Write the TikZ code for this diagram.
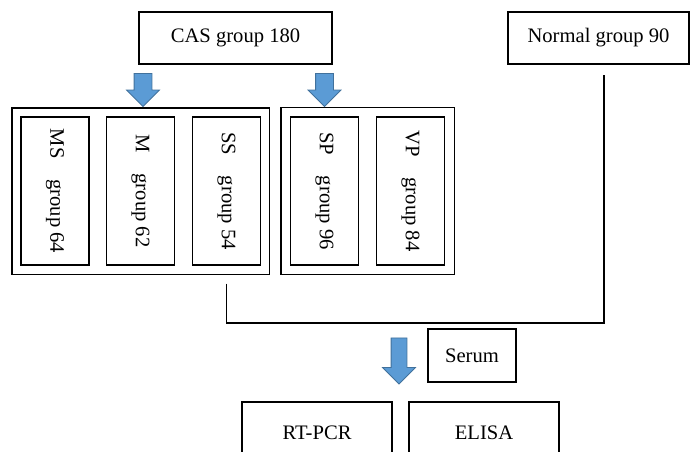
\documentclass[tikz,border=0pt]{standalone}
\usepackage{fontspec}
\setmainfont{Liberation Serif}
\usepackage{xcolor}
\usetikzlibrary{shapes.arrows, fit}
\definecolor{arrowfill}{RGB}{91,155,213}
\definecolor{arrowedge}{RGB}{65,113,156}

\begin{document}
\begin{tikzpicture}[x=1pt, y=-1pt, line width=1.2pt,
  box/.style={draw, rectangle, inner sep=0pt, minimum width=#1, minimum height=52,
    font=\fontsize{20.6}{24}\selectfont},
  groupbox/.style={draw, rectangle, inner sep=0pt, minimum width=68, minimum height=148,
    font=\fontsize{20.6}{24}\selectfont},
  outerbox/.style={draw, rectangle, inner sep=#1},
  bluearrow/.style={single arrow, rotate=-90, draw=arrowedge, fill=arrowfill,
    line width=0.8pt, inner xsep=0pt, minimum width=32, single arrow head extend=#1}]
  \useasboundingbox (0,0) rectangle (690,451);

  \node[box=193] (cas) at (235.5,38) {CAS group 180};
  \node[box=181] (normal) at (598.5,38) {Normal group 90};

  % CAS subgroups
  \node[groupbox] (ms) at (55,191) {\rotatebox{-90}{MS\quad group 64}};
  \node[groupbox] (m) at (140.5,191) {\rotatebox{-90}{M\quad group 62}};
  \node[groupbox] (ss) at (226.5,191) {\rotatebox{-90}{SS\quad group 54}};
  \node[groupbox] (sp) at (324.5,191) {\rotatebox{-90}{SP\quad group 96}};
  \node[groupbox] (vp) at (410.5,191) {\rotatebox{-90}{VP\quad group 84}};
  \node[outerbox=8.5pt, fit=(ms)(ss)] (leftset) {};
  \node[outerbox=9pt, fit=(sp)(vp)] (rightset) {};

  \node[bluearrow=7.5, inner ysep=8.5pt, minimum height=33] (arrowleft) at (143,85.5) {};
  \node[bluearrow=7.5, inner ysep=8.5pt, minimum height=33] (arrowright) at (324.5,85.5) {};

  \node[box=88, minimum height=53] (serum) at (472,355.5) {Serum};
  \node[bluearrow=8.5, inner ysep=7.5pt, minimum height=46] (arrowserum) at (399,357) {};

  \node[box=150, minimum height=62] (rtpcr) at (317,433) {RT-PCR};
  \node[box=150, minimum height=62] (elisa) at (484,433) {ELISA};

  \coordinate (join) at (604,323);
  \draw[shorten <=18pt, shorten >=10pt] (ss.south) |- (join) -- (join |- normal.south);

\end{tikzpicture}
\end{document}
